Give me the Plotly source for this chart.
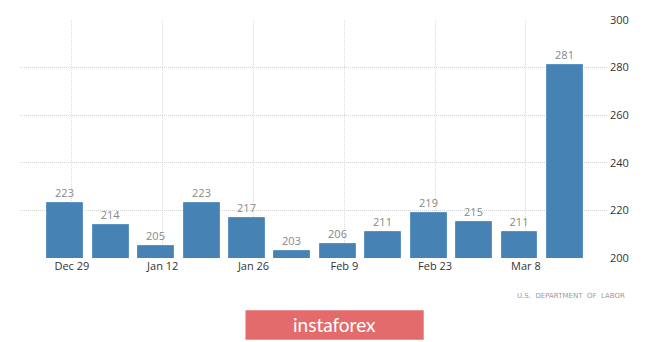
import plotly.graph_objects as go

weeks = ["2019-12-28", "2020-01-04", "2020-01-11", "2020-01-18", "2020-01-25", "2020-02-01",
         "2020-02-08", "2020-02-15", "2020-02-22", "2020-02-29", "2020-03-07", "2020-03-14"]
claims = [223, 214, 205, 223, 217, 203, 206, 211, 219, 215, 211, 281]
tick_dates = ["2019-12-29", "2020-01-12", "2020-01-26", "2020-02-09", "2020-02-23", "2020-03-08"]
tick_labels = ["Dec 29", "Jan 12", "Jan 26", "Feb 9", "Feb 23", "Mar 8"]
y_ticks = [200, 220, 240, 260, 280, 300]
source = "U.S.  DEPARTMENT  OF  LABOR"
brand = "instaforex"

DAY_MS = 86400000

fig = go.Figure(go.Bar(
    x=weeks, y=claims,
    width=[DAY_MS * 7 * 0.79] * len(weeks),
    marker=dict(color="#4682b4", line=dict(color="#5b93c2", width=1)),
    text=[str(v) for v in claims],
    textposition="outside",
    textfont=dict(family="Open Sans", size=11, color="#888888"),
    cliponaxis=False,
    hoverinfo="skip",
))

fig.update_layout(
    width=665, height=342,
    margin=dict(l=20, r=58, t=17, b=84),
    paper_bgcolor="white", plot_bgcolor="white",
    showlegend=False,
    bargap=0,
    xaxis=dict(
        type="date",
        range=["2019-12-21", "2020-03-20 12:00"],
        tickvals=tick_dates, ticktext=tick_labels,
        tickfont=dict(family="Open Sans", size=11, color="#333333"),
        showgrid=True, gridcolor="#dcdcdc", griddash="1px,1px", gridwidth=1,
        zeroline=False, showline=False, ticks="",
    ),
    yaxis=dict(
        range=[200, 300], side="right",
        tickvals=y_ticks,
        tickfont=dict(family="Open Sans", size=11, color="#333333"),
        showgrid=True, gridcolor="#d4d4d4", griddash="1px,1px", gridwidth=1,
        zeroline=False, showline=False, ticks="",
        ticklabelstandoff=2,
    ),
    shapes=[dict(type="rect", xref="paper", yref="paper",
                 x0=(245.5 - 20) / 587, x1=(423.7 - 20) / 587,
                 y0=(258 - 340.7) / 241, y1=(258 - 311) / 241,
                 fillcolor="#e46b6b", line=dict(width=0), layer="above")],
    annotations=[
        dict(text=source, xref="paper", yref="paper",
             x=(627 - 20) / 587, y=(258 - 296) / 241, xanchor="right", yanchor="middle",
             showarrow=False, font=dict(family="DejaVu Sans", size=7, color="#9a9a9a")),
        dict(text=brand, xref="paper", yref="paper",
             x=(334 - 20) / 587, y=(258 - 325) / 241, xanchor="center", yanchor="middle",
             showarrow=False, font=dict(family="Lato", size=19, color="white")),
    ],
)

fig.write_html("out.html")
